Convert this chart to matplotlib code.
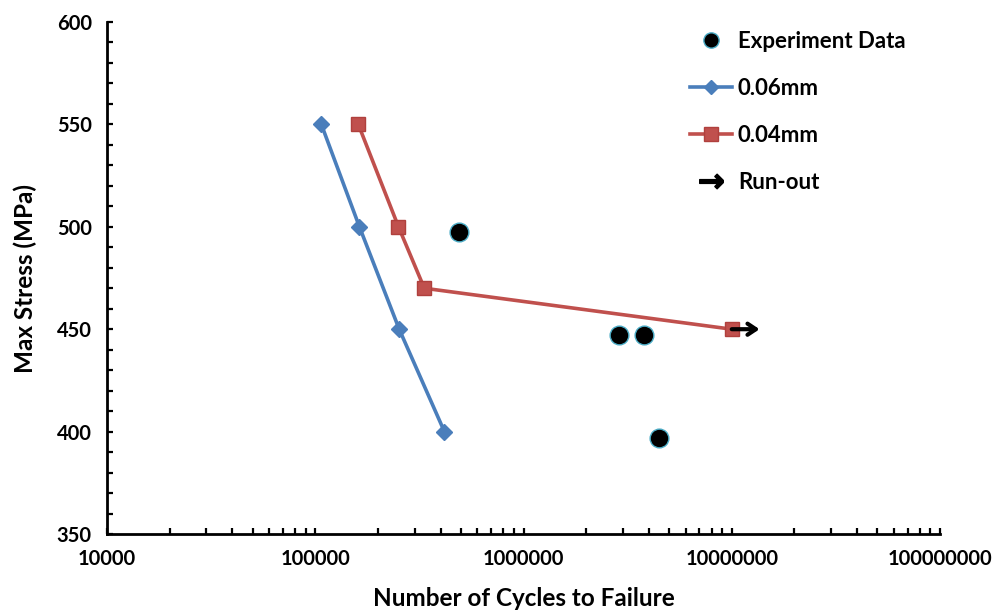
import matplotlib
matplotlib.use("Agg")
import matplotlib.pyplot as plt
from matplotlib.lines import Line2D
from matplotlib.ticker import LogLocator, FixedLocator, MultipleLocator, FuncFormatter

plt.rcParams['font.family'] = ['Lato', 'DejaVu Sans']
plt.rcParams['font.weight'] = 'bold'

# data
exp_cycles = [492000, 2860000, 3800000, 4450000]
exp_stress = [497.5, 447, 447, 397]
cyc_006 = [107000, 163000, 253000, 417000]
str_006 = [550, 500, 450, 400]
cyc_004 = [161000, 251000, 334000, 10000000]
str_004 = [550, 500, 470, 450]
runout_start = 10000000
runout_end = 13600000
runout_stress = 450

blue = '#4a7ebb'
red = '#c0504d'

fig = plt.figure(figsize=(9.98, 6.10), dpi=100)
ax = fig.add_axes([0.1072, 0.1246, 0.8347, 0.8393])

ax.plot(cyc_006, str_006, color=blue, lw=2.6, marker='D', ms=8, mfc=blue, mec=blue, zorder=3, label='0.06mm')
ax.plot(cyc_004, str_004, color=red, lw=2.6, marker='s', ms=10, mfc=red, mec='#b0403d', zorder=3, label='0.04mm')
ax.plot(exp_cycles, exp_stress, ls='none', marker='o', ms=13.5, mfc='black', mec='#4bacc6', mew=1.0, zorder=4, label='Experiment Data')
ax.annotate('', xy=(runout_end, runout_stress), xytext=(runout_start, runout_stress),
            arrowprops=dict(arrowstyle='->,head_length=0.6,head_width=0.4', lw=3.0, color='black',
                            shrinkA=0, shrinkB=0), zorder=5)

ax.set_xscale('log')
ax.set_xlim(1e4, 1e8)
ax.set_ylim(350, 600)
ax.xaxis.set_major_locator(FixedLocator([1e4, 1e5, 1e6, 1e7, 1e8]))
ax.xaxis.set_minor_locator(LogLocator(base=10, subs=range(2, 10), numticks=20))
ax.xaxis.set_major_formatter(FuncFormatter(lambda v, p: f"{int(round(v))}"))
ax.xaxis.set_minor_formatter(FuncFormatter(lambda v, p: ""))
ax.yaxis.set_major_locator(MultipleLocator(50))
ax.yaxis.set_minor_locator(MultipleLocator(10))

for s in ['top', 'right']:
    ax.spines[s].set_visible(False)
for s in ['left', 'bottom']:
    ax.spines[s].set_linewidth(2.0)
ax.tick_params(which='both', direction='in', width=1.6, length=4.5, labelsize=14.5)
ax.tick_params(axis='x', which='both', pad=11)
ax.tick_params(axis='y', which='both', pad=11)
for lbl in ax.get_xticklabels() + ax.get_yticklabels():
    lbl.set_fontweight('bold')

ax.set_xlabel('Number of Cycles to Failure', fontsize=17.5, fontweight='bold', labelpad=13)
ax.set_ylabel('Max Stress (MPa)', fontsize=17.5, fontweight='bold', labelpad=14)

arrow_handle = Line2D([], [], ls='none', marker=r'$\mathbf{\rightarrow}$', ms=17, color='black')
handles = [
    Line2D([], [], ls='none', marker='o', ms=11, mfc='black', mec='#4bacc6'),
    Line2D([], [], color=blue, lw=2.6, marker='D', ms=7.5, mfc=blue, mec=blue),
    Line2D([], [], color=red, lw=2.6, marker='s', ms=9.5, mfc=red, mec='#b0403d'),
    arrow_handle,
]
labels = ['Experiment Data', '0.06mm', '0.04mm', 'Run-out']
leg = ax.legend(handles, labels, loc='upper left', bbox_to_anchor=(0.70, 0.982), frameon=False,
                prop={'size': 16, 'weight': 'bold'}, labelspacing=1.17, handlelength=1.9,
                handletextpad=0.25, borderpad=0, borderaxespad=0)

fig.savefig('out.png', dpi=100)
